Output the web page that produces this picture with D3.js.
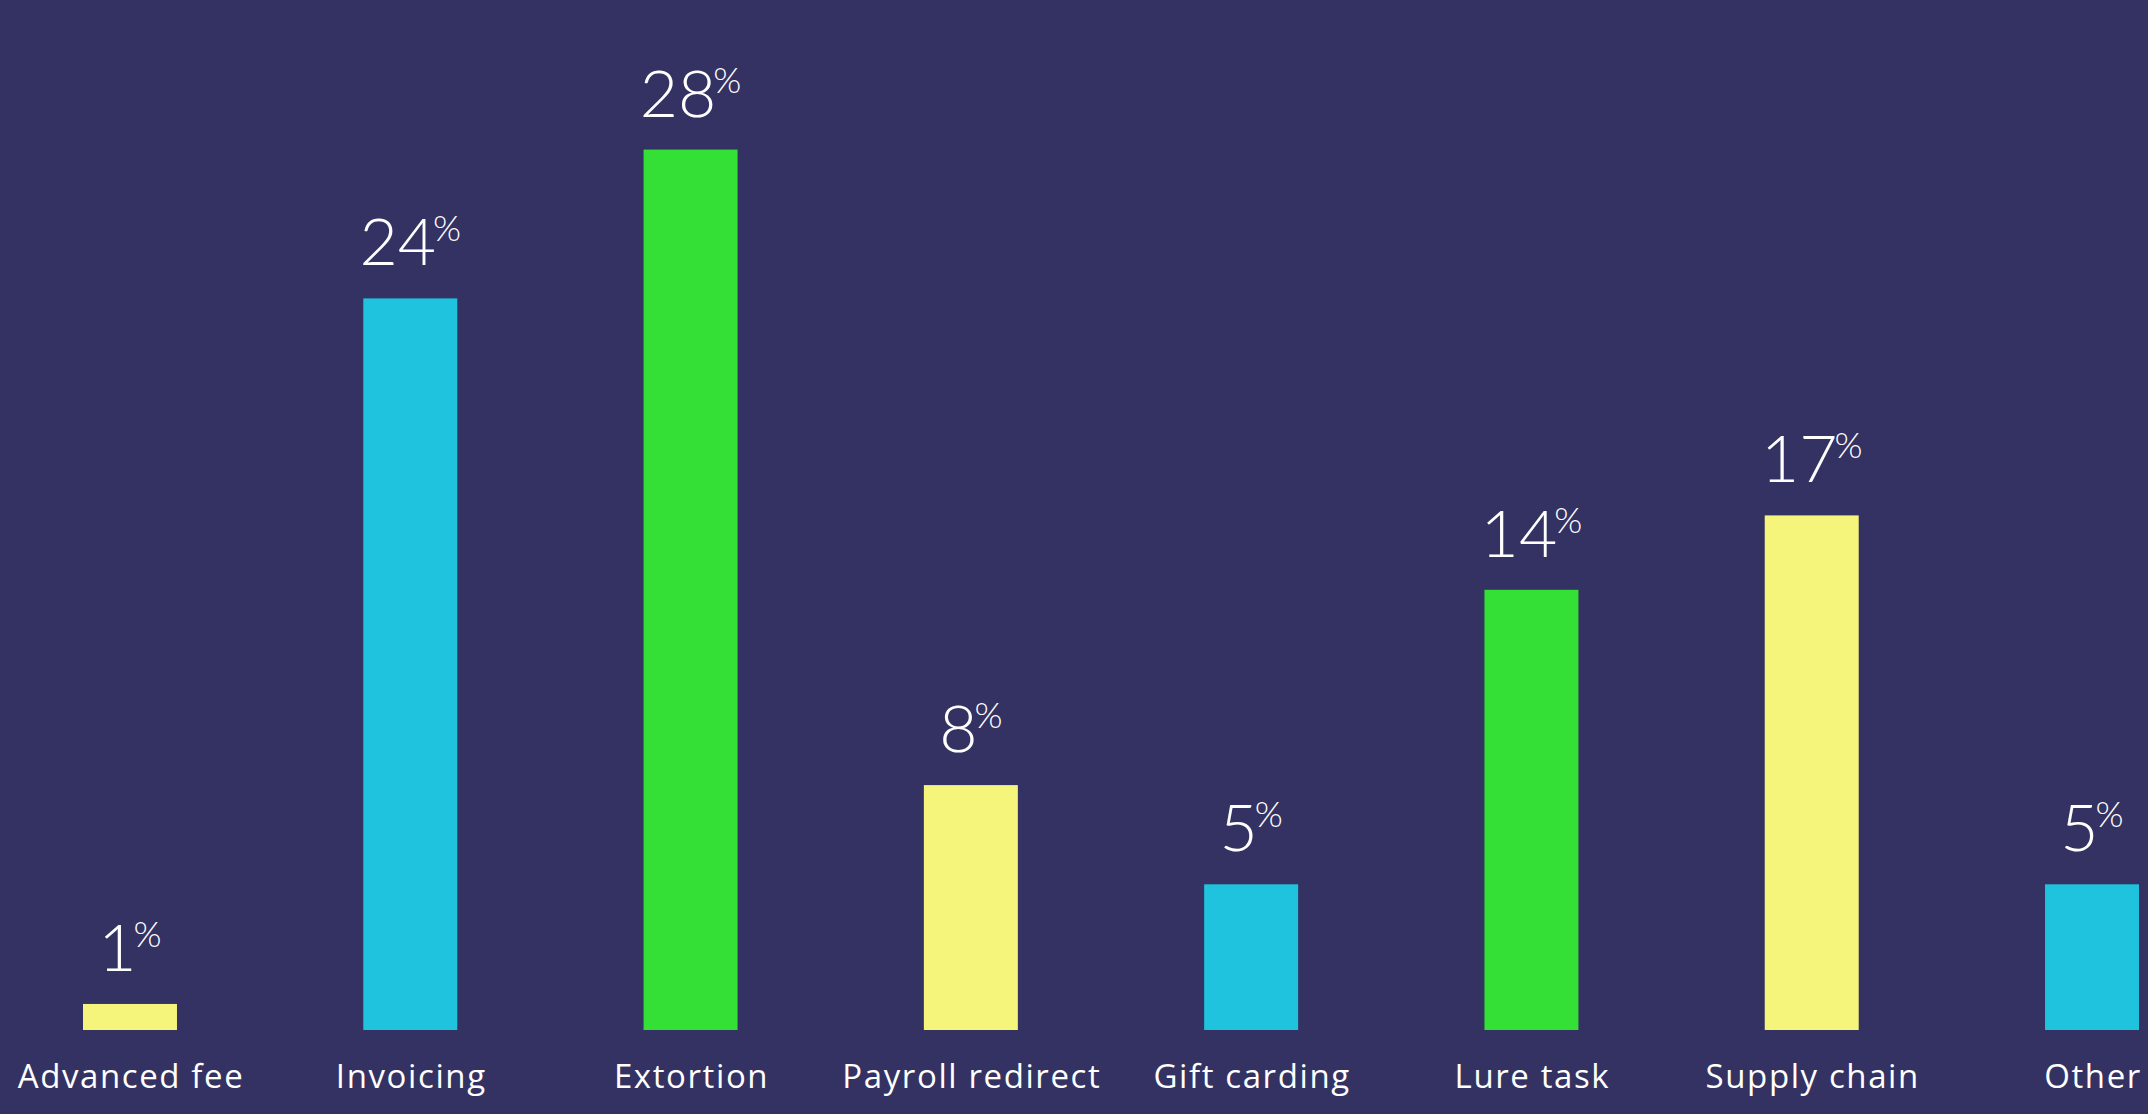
<!DOCTYPE html>
<html>
<head>
<meta charset="utf-8">
<script src="https://cdn.jsdelivr.net/npm/d3@7"></script>
<style>
  html, body { margin: 0; padding: 0; background: #343262; }
  svg { display: block; }
</style>
</head>
<body>
<div id="chart"></div>
<script>
// categories and values (percent)
var categories = ["Advanced fee", "Invoicing", "Extortion", "Payroll redirect", "Gift carding", "Lure task", "Supply chain", "Other"]
var values = [0.84, 23.6, 28.4, 7.9, 4.7, 14.2, 16.6, 4.7]
var labels = ["1", "24", "28", "8", "5", "14", "17", "5"]
var barColors = ["#f4f57a", "#1fc3de", "#34e036", "#f4f57a", "#1fc3de", "#34e036", "#f4f57a", "#1fc3de"]

var width = 2148,
    height = 1114

var svg = d3.select("#chart")
  .append("svg")
    .attr("width", width)
    .attr("height", height)

svg.append("rect")
  .attr("width", width)
  .attr("height", height)
  .attr("fill", "#343262")

// x positions of the bars
var x = d3.scaleBand()
  .domain(categories)
  .range([83, 2139])
  .paddingInner(0.6647)
  .paddingOuter(0)

// about 31px per percentage point, baseline at 1030
var y = d3.scaleLinear()
  .domain([0, 30])
  .range([1030, 100])

var rows = categories.map(function(c, i) {
  return {cat: c, value: values[i], label: labels[i], color: barColors[i]}
})

svg.selectAll("rect.bar")
  .data(rows)
  .enter()
  .append("rect")
    .attr("class", "bar")
    .attr("x", function(d) { return x(d.cat) })
    .attr("y", function(d) { return y(d.value) })
    .attr("width", x.bandwidth())
    .attr("height", function(d) { return y(0) - y(d.value) })
    .attr("fill", function(d) { return d.color })

// value labels above bars, % as a small raised sign
var vl = svg.selectAll("text.val")
  .data(rows)
  .enter()
  .append("text")
    .attr("class", "val")
    .attr("x", function(d) { return x(d.cat) + x.bandwidth() / 2 })
    .attr("y", function(d) { return y(d.value) - 33 })
    .attr("text-anchor", "middle")
    .attr("fill", "#ffffff")
    .style("font-family", "Lato, 'Open Sans', sans-serif")
    .style("font-weight", 300)
    .style("font-size", "66px")

vl.append("tspan").text(function(d) { return d.label })
vl.append("tspan")
  .attr("dx", -3)
  .attr("dy", -24)
  .style("font-size", "36px")
  .text("%")

// category labels under the baseline
svg.selectAll("text.cat")
  .data(rows)
  .enter()
  .append("text")
    .attr("class", "cat")
    .attr("x", function(d) { return x(d.cat) + x.bandwidth() / 2 + 1 })
    .attr("y", 1088)
    .attr("text-anchor", "middle")
    .attr("fill", "#ffffff")
    .style("font-family", "'Open Sans', Lato, sans-serif")
    .style("font-size", "33px")
    .style("letter-spacing", "1.6px")
    .text(function(d) { return d.cat })
</script>
</body>
</html>
